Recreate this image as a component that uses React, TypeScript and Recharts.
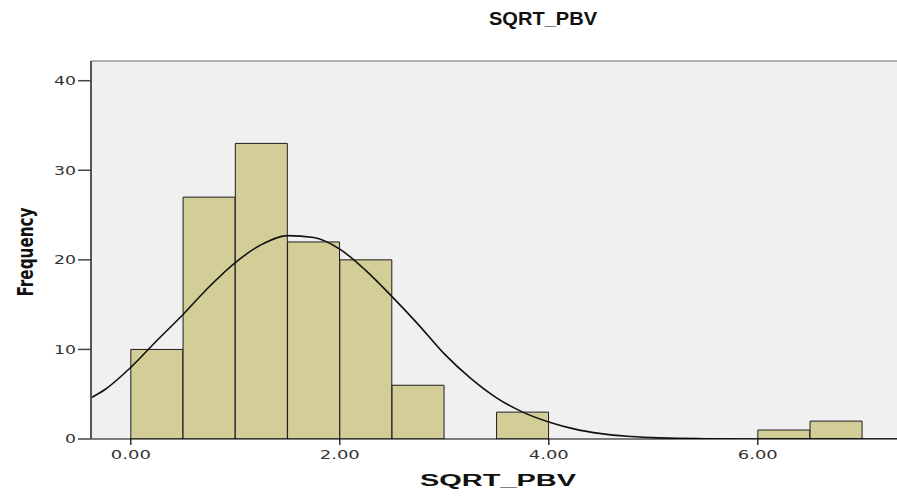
import React from 'react';
import {
  ComposedChart,
  Bar,
  Line,
  XAxis,
  YAxis,
  CartesianGrid,
  ReferenceLine,
} from 'recharts';

// Histogram bins (bin midpoints, width 0.5) and counts
const binMids = [0.25, 0.75, 1.25, 1.75, 2.25, 2.75, 3.25, 3.75, 4.25, 4.75, 5.25, 5.75, 6.25, 6.75];
const binCounts = [10, 27, 33, 22, 20, 6, 0, 3, 0, 0, 0, 0, 1, 2];

// Normal curve
const curveX = [-0.381, -0.25, 0, 0.25, 0.5, 0.75, 1.0, 1.25, 1.5, 1.75, 2.0, 2.25, 2.5, 2.75, 3.0, 3.25, 3.5, 3.75, 4.0, 4.25, 4.5, 4.75, 5.0, 5.5, 6.0, 7.332];
const curveY = [4.6, 5.5, 8.0, 11.0, 13.9, 17.0, 19.7, 21.7, 22.7, 22.5, 21.2, 18.8, 15.9, 12.8, 9.5, 6.8, 4.6, 3.0, 1.9, 1.1, 0.6, 0.3, 0.15, 0.03, 0.0, 0.0];

const xTicks = [0, 2, 4, 6];
const yTicks = [0, 10, 20, 30, 40];
const xDomain: [number, number] = [-0.381, 7.332];
const yDomain: [number, number] = [0, 42.2];

const title = 'SQRT_PBV';
const xLabel = 'SQRT_PBV';
const yLabel = 'Frequency';

const binData = binMids.map((m, i) => ({ mid: m, count: binCounts[i] }));
const curveData = curveX.map((x, i) => ({ cx: x, fit: curveY[i] }));

const TICK_FONT = "'DejaVu Sans', sans-serif";

const XTick = (props: any) => {
  const { x, y, payload } = props;
  const label = Number(payload.value).toFixed(2);
  return (
    <text
      x={x}
      y={y}
      dy="0.71em"
      textAnchor="middle"
      fontFamily={TICK_FONT}
      fontSize={12}
      fill="#333"
      textLength={label.length * 10}
      lengthAdjust="spacingAndGlyphs"
    >
      {label}
    </text>
  );
};

const YTick = (props: any) => {
  const { x, y, payload } = props;
  const label = String(payload.value);
  return (
    <text
      x={x}
      y={y}
      dy="0.36em"
      textAnchor="end"
      fontFamily={TICK_FONT}
      fontSize={12}
      fill="#333"
      textLength={label.length * 11}
      lengthAdjust="spacingAndGlyphs"
    >
      {label}
    </text>
  );
};

export default function App() {
  return (
    <div style={{ position: 'absolute', left: 0, top: 0, width: 897, height: 496, background: '#fff' }}>
      <ComposedChart
        width={897}
        height={496}
        data={binData}
        margin={{ top: 61, right: 0, bottom: 0, left: 0 }}
        barCategoryGap={0}
        barGap={0}
      >
        <CartesianGrid fill="#f0f0f0" horizontal={false} vertical={false} />
        <XAxis
          xAxisId="bins"
          dataKey="mid"
          type="number"
          domain={xDomain}
          allowDataOverflow
          ticks={xTicks}
          interval={0}
          height={57}
          tickSize={6}
          tickMargin={5}
          axisLine={{ stroke: '#000', strokeWidth: 1 }}
          tickLine={{ stroke: '#000', strokeWidth: 1.2 }}
          tick={<XTick />}
        />
        <XAxis
          xAxisId="curve"
          dataKey="cx"
          type="number"
          domain={xDomain}
          allowDataOverflow
          hide
          height={0}
          orientation="top"
        />
        <YAxis
          yAxisId="curveY"
          type="number"
          domain={yDomain}
          allowDataOverflow
          hide
          width={0}
        />
        <YAxis
          yAxisId="freq"
          type="number"
          domain={yDomain}
          allowDataOverflow
          ticks={yTicks}
          interval={0}
          width={91}
          tickSize={13}
          tickMargin={2}
          axisLine={{ stroke: '#555', strokeWidth: 2 }}
          tickLine={{ stroke: '#444', strokeWidth: 1.5 }}
          tick={<YTick />}
        />
        <ReferenceLine xAxisId="bins" yAxisId="freq" y={42.2} stroke="#999" strokeWidth={1.5} ifOverflow="visible" />
        <Bar
          xAxisId="bins"
          yAxisId="freq"
          dataKey="count"
          fill="#d3ce97"
          stroke="#1e1e1e"
          strokeWidth={1}
          isAnimationActive={false}
        />
        <Line
          xAxisId="curve"
          yAxisId="curveY"
          data={curveData}
          dataKey="fit"
          type="monotone"
          stroke="#111"
          strokeWidth={1.6}
          dot={false}
          activeDot={false}
          isAnimationActive={false}
        />
      </ComposedChart>
      <svg
        width={897}
        height={496}
        style={{ position: 'absolute', left: 0, top: 0, pointerEvents: 'none' }}
      >
        <text
          x={543}
          y={25}
          textAnchor="middle"
          fontFamily="'Liberation Sans', Arial, sans-serif"
          fontWeight="bold"
          fontSize={19}
          fill="#111"
          textLength={108}
          lengthAdjust="spacingAndGlyphs"
        >
          {title}
        </text>
        <text
          x={498}
          y={486}
          textAnchor="middle"
          fontFamily="'Liberation Sans', Arial, sans-serif"
          fontWeight="bold"
          fontSize={16}
          fill="#111"
          textLength={156}
          lengthAdjust="spacingAndGlyphs"
        >
          {xLabel}
        </text>
        <text
          x={0}
          y={0}
          transform="translate(33 252) rotate(-90)"
          textAnchor="middle"
          fontFamily="'Liberation Sans Narrow', 'DejaVu Sans Condensed', sans-serif"
          fontWeight="bold"
          fontSize={21}
          fill="#111"
          textLength={89}
          lengthAdjust="spacingAndGlyphs"
        >
          {yLabel}
        </text>
      </svg>
    </div>
  );
}
